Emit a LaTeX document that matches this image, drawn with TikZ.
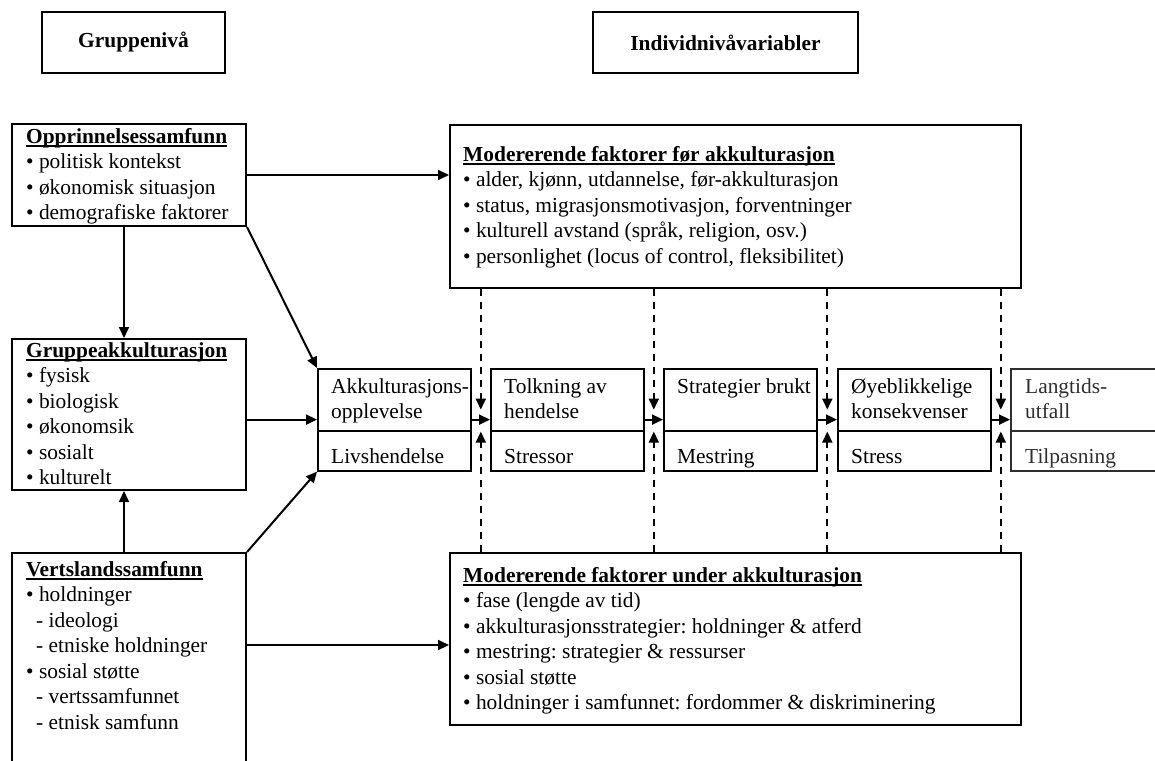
\documentclass[tikz,border=0pt]{standalone}
\usepackage{fontspec}
\setmainfont{Liberation Serif}
\usetikzlibrary{arrows.meta,calc}
\definecolor{ink}{HTML}{000000}
\definecolor{blek}{HTML}{2E2E2E}
\newcommand{\tekst}{\fontsize{21.4}{25.5}\selectfont\frenchspacing}
\newsavebox{\tittelboks}
\newcommand{\tittel}[1]{\sbox{\tittelboks}{\textbf{#1}}\rlap{\rule[-3.5pt]{\wd\tittelboks}{1.4pt}}\usebox{\tittelboks}}
\tikzset{boks/.style={draw=ink,line width=2pt,inner sep=0,anchor=north west},
  steg/.style={boks,line width=1.6pt,minimum width=153pt},
  innhold/.style={anchor=north west,inner sep=0,align=left,text=ink,font=\tekst},
  under/.style={anchor=base west,inner sep=0,text=ink,font=\tekst},
  pil/.style={ink,line width=2pt,-{Triangle[length=11pt,width=10pt]}},
  stiplet/.style={ink,line width=2pt,dash pattern=on 7pt off 6pt,
    -{Triangle[length=11pt,width=10pt]}}}

\begin{document}
\begin{tikzpicture}[x=1pt,y=-1pt]
\useasboundingbox (0,0) rectangle (1155,760);
% overskrifter
\node[boks,minimum width=183pt,minimum height=61pt,font=\tekst\bfseries] (gruppe) at (41,11) {Gruppenivå};
\node[boks,minimum width=265pt,minimum height=61pt,font=\tekst\bfseries] (individ) at (592,11) {Individnivåvariabler};
% gruppenivå
\node[boks,minimum width=234pt,minimum height=102pt] (opp) at (11,123) {};
\node[innhold] (opp-t) at (26,128) {\tittel{Opprinnelsessamfunn}\\• politisk kontekst\\• økonomisk situasjon\\• demografiske faktorer};
\node[boks,minimum width=234pt,minimum height=151pt] (grp) at (11,338) {};
\node[innhold] (grp-t) at (26,342) {\tittel{Gruppeakkulturasjon}\\• fysisk\\• biologisk\\• økonomsik\\• sosialt\\• kulturelt};
\node[boks,minimum width=234pt,minimum height=240pt] (vert) at (11,552) {};
\node[innhold] (vert-t) at (26,561) {\tittel{Vertslandssamfunn}\\• holdninger\\\hspace*{10pt}- ideologi\\\hspace*{10pt}- etniske holdninger\\• sosial støtte\\\hspace*{10pt}- vertssamfunnet\\\hspace*{10pt}- etnisk samfunn};
% modererende faktorer
\node[boks,minimum width=571pt,minimum height=163pt] (foer) at (449,124) {};
\node[innhold] (foer-t) at (463,146) {\tittel{Modererende faktorer før akkulturasjon}\\• alder, kjønn, utdannelse, før-akkulturasjon\\• status, migrasjonsmotivasjon, forventninger\\• kulturell avstand (språk, religion, osv.)\\• personlighet (locus of control, fleksibilitet)};
\node[boks,minimum width=571pt,minimum height=172pt] (under) at (449,552) {};
\node[innhold] (under-t) at (463,567) {\tittel{Modererende faktorer under akkulturasjon}\\• fase (lengde av tid)\\• akkulturasjonsstrategier: holdninger \& atferd\\• mestring: strategier \& ressurser\\• sosial støtte\\• holdninger i samfunnet: fordommer \& diskriminering};
% prosess
\node[steg,minimum height=62pt] (akk) at (317,368) {};
\node[steg,minimum height=40pt] (akk-u) at (317,430) {};
\node[innhold] (akk-t) at (331,378) {Akkulturasjons-\\opplevelse};
\node[under] (akk-ut) at (331,463) {Livshendelse};
\node[steg,minimum height=62pt] (tolk) at (490,368) {};
\node[steg,minimum height=40pt] (tolk-u) at (490,430) {};
\node[innhold] (tolk-t) at (504,378) {Tolkning av\\hendelse};
\node[under] (tolk-ut) at (504,463) {Stressor};
\node[steg,minimum height=62pt] (strat) at (663,368) {};
\node[steg,minimum height=40pt] (strat-u) at (663,430) {};
\node[innhold] (strat-t) at (677,378) {Strategier brukt};
\node[under] (strat-ut) at (677,463) {Mestring};
\node[steg,minimum height=62pt] (oye) at (837,368) {};
\node[steg,minimum height=40pt] (oye-u) at (837,430) {};
\node[innhold] (oye-t) at (851,378) {Øyeblikkelige\\konsekvenser};
\node[under] (oye-ut) at (851,463) {Stress};
\node[steg,draw=blek,minimum height=62pt] (lang) at (1010,368) {};
\node[steg,draw=blek,minimum height=40pt] (lang-u) at (1010,430) {};
\node[innhold,text=blek] (lang-t) at (1025,378) {Langtids-\\utfall};
\node[under,text=blek] (lang-ut) at (1025,463) {Tilpasning};
% piler
\coordinate (akkpil) at ([yshift=12pt]akk.south west);
\draw[pil] (opp.east) -- (opp.east -| foer.west);
\draw[pil] ([xshift=-5pt]opp.south) -- ([xshift=-5pt]grp.north);
\draw[pil] (opp.south east) -- (akk.north west);
\draw[pil] (grp.east |- akkpil) -- (akkpil);
\draw[pil] ([xshift=-5pt]vert.north) -- ([xshift=-5pt]grp.south);
\draw[pil] (vert.north east) -- (akk-u.south west);
\draw[pil] ([yshift=-6pt]under.west -| vert.east) -- ([yshift=-6pt]under.west);
\draw[pil] ([yshift=12pt]akk.south east) -- ([yshift=12pt]tolk.south west);
\draw[pil] ([yshift=12pt]tolk.south east) -- ([yshift=12pt]strat.south west);
\draw[pil] ([yshift=12pt]strat.south east) -- ([yshift=12pt]oye.south west);
\draw[pil] ([yshift=12pt]oye.south east) -- ([yshift=12pt]lang.south west);
% stiplede piler
\coordinate (g1) at ($(akk.south east)!0.5!(tolk.south west)$);
\coordinate (g2) at ($(tolk.south east)!0.5!(strat.south west)$);
\coordinate (g3) at ($(strat.south east)!0.5!(oye.south west)$);
\coordinate (g4) at ($(oye.south east)!0.5!(lang.south west)$);
\draw[stiplet] (foer.south -| g1) -- ([yshift=22pt]g1);
\draw[stiplet] (under.north -| g1) -- (g1);
\draw[stiplet] (foer.south -| g2) -- ([yshift=22pt]g2);
\draw[stiplet] (under.north -| g2) -- (g2);
\draw[stiplet] (foer.south -| g3) -- ([yshift=22pt]g3);
\draw[stiplet] (under.north -| g3) -- (g3);
\draw[stiplet] (foer.south -| g4) -- ([yshift=22pt]g4);
\draw[stiplet] (under.north -| g4) -- (g4);
\end{tikzpicture}
\end{document}
